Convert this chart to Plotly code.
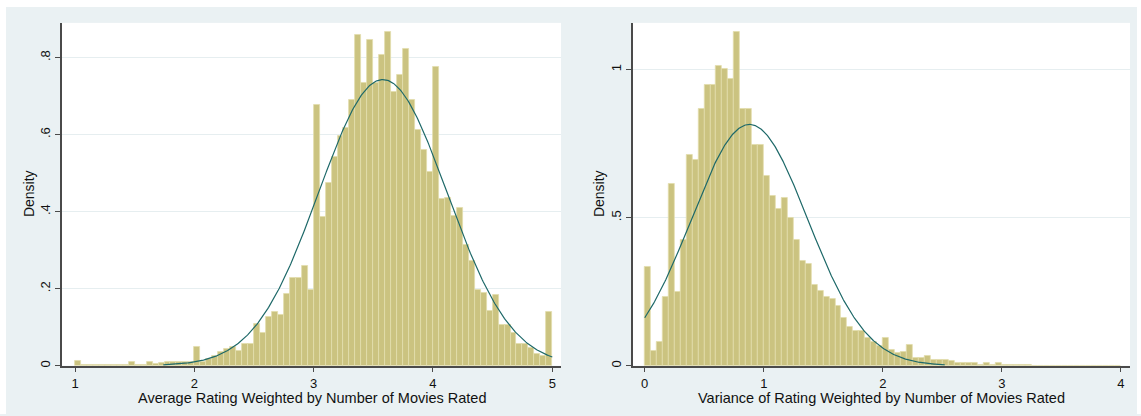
import numpy as np
import plotly.graph_objects as go

W, H = 1141, 416

# ---------------- data ----------------
avg_bin_start = 1.0
avg_bin_width = 0.05
avg_density = [
    0.013, 0.003, 0.003, 0.003, 0.003, 0.003, 0.003, 0.003, 0.003, 0.010,
    0.003, 0.003, 0.009, 0.006, 0.008, 0.009, 0.009, 0.009, 0.009, 0.009,
    0.050, 0.011, 0.017, 0.026, 0.035, 0.044, 0.049, 0.039, 0.056, 0.056,
    0.109, 0.084, 0.127, 0.140, 0.131, 0.187, 0.228, 0.228, 0.259, 0.198,
    0.676, 0.386, 0.474, 0.543, 0.597, 0.618, 0.689, 0.858, 0.733, 0.845,
    0.733, 0.808, 0.866, 0.711, 0.754, 0.822, 0.689, 0.611, 0.560, 0.502,
    0.776, 0.433, 0.435, 0.390, 0.411, 0.314, 0.271, 0.198, 0.190, 0.142,
    0.185, 0.107, 0.107, 0.086, 0.056, 0.056, 0.047, 0.032, 0.025, 0.140,
]
avg_mean, avg_sd = 3.58, 0.537
avg_curve_range = (1.74, 5.0)

var_bin_start = 0.0
var_bin_width = 0.05
var_density = [
    0.333, 0.049, 0.081, 0.232, 0.613, 0.249, 0.426, 0.711, 0.694, 0.869,
    0.948, 0.948, 1.013, 1.002, 0.969, 1.128, 0.869, 0.869, 0.745, 0.745,
    0.641, 0.574, 0.530, 0.566, 0.500, 0.426, 0.353, 0.344, 0.273, 0.252,
    0.231, 0.227, 0.202, 0.163, 0.132, 0.118, 0.119, 0.093, 0.082, 0.066,
    0.093, 0.052, 0.043, 0.046, 0.072, 0.025, 0.028, 0.033, 0.019, 0.019,
    0.019, 0.016, 0.011, 0.011, 0.011, 0.008, 0.002, 0.011, 0.002, 0.008,
    0.002, 0.002, 0.002, 0.002, 0.002, 0.001, 0.001, 0.001, 0.001, 0.001,
    0.001, 0.001, 0.001, 0.001, 0.001, 0.001, 0.001, 0.001, 0.001, 0.001,
]
var_mean, var_sd = 0.88, 0.4895
var_curve_range = (0.0, 2.52)

avg_xticks = [1, 2, 3, 4, 5]
avg_yticks = [0, 0.2, 0.4, 0.6, 0.8]
avg_yticktext = ["0", ".2", ".4", ".6", ".8"]
var_xticks = [0, 1, 2, 3, 4]
var_yticks = [0, 0.5, 1]
var_yticktext = ["0", ".5", "1"]

avg_xtitle = "Average Rating Weighted by Number of Movies Rated"
var_xtitle = "Variance of Rating Weighted by Number of Movies Rated"
ytitle = "Density"

# ---------------- styling ----------------
BAR_FILL = "rgb(203,195,128)"
BAR_EDGE = "rgb(226,221,172)"
CURVE = "rgb(30,105,105)"
REGION = "#eaf1f3"
GRID = "#e6eef0"
AXIS = "#4a4a4a"
FAMILY = "Liberation Sans, Arial, sans-serif"
TICKFONT = dict(family=FAMILY, size=13, color="#111111")
YTITLEFONT = dict(family=FAMILY, size=14, color="#111111")
TITLEFONT = dict(family=FAMILY, size=14.5, color="#111111")


def normal_pdf(x, m, s):
    return np.exp(-0.5 * ((x - m) / s) ** 2) / (s * np.sqrt(2 * np.pi))


fig = go.Figure()


def add_panel(density, start, width, mean, sd, crange, xa, ya):
    centers = [start + width * (i + 0.5) for i in range(len(density))]
    fig.add_trace(go.Bar(
        x=centers, y=density, width=width,
        marker=dict(color=BAR_FILL, line=dict(color=BAR_EDGE, width=0.8)),
        xaxis=xa, yaxis=ya, showlegend=False, hoverinfo="skip",
    ))
    xs = np.linspace(crange[0], crange[1], 400)
    fig.add_trace(go.Scatter(
        x=xs, y=normal_pdf(xs, mean, sd), mode="lines",
        line=dict(color=CURVE, width=1.2),
        xaxis=xa, yaxis=ya, showlegend=False, hoverinfo="skip",
    ))


add_panel(avg_density, avg_bin_start, avg_bin_width, avg_mean, avg_sd, avg_curve_range, "x", "y")
add_panel(var_density, var_bin_start, var_bin_width, var_mean, var_sd, var_curve_range, "x2", "y2")

def px(v):
    return v / W

def py(v):
    return 1 - v / H

ydom = [py(367.5), py(23)]

common_x = dict(ticks="outside", ticklen=5, tickwidth=1, tickcolor=AXIS,
                showline=True, linecolor=AXIS, linewidth=1.5,
                showgrid=False, zeroline=False, tickfont=TICKFONT)
common_y = dict(ticks="outside", ticklen=5, tickwidth=1, tickcolor=AXIS,
                showline=True, linecolor=AXIS, linewidth=1.5,
                showgrid=True, gridcolor=GRID, gridwidth=1,
                zeroline=False, tickangle=-90, tickfont=TICKFONT)

fig.update_layout(
    width=W, height=H,
    margin=dict(l=0, r=0, t=0, b=0),
    paper_bgcolor=REGION, plot_bgcolor="white",
    bargap=0, barmode="overlay",
    font=TICKFONT,
    xaxis=dict(domain=[px(62), px(561)], range=[0.891, 5.073],
               tickvals=avg_xticks, anchor="y", **common_x),
    yaxis=dict(domain=ydom, range=[0, 0.890], tickvals=avg_yticks,
               ticktext=avg_yticktext, anchor="x", **common_y),
    xaxis2=dict(domain=[px(632.7), px(1130)], range=[-0.101, 4.076],
                tickvals=var_xticks, anchor="y2", **common_x),
    yaxis2=dict(domain=ydom, range=[0, 1.158], tickvals=var_yticks,
                ticktext=var_yticktext, anchor="x2", **common_y),
    shapes=[
        dict(type="rect", xref="paper", yref="paper", x0=0, x1=1, y0=py(7), y1=1,
             fillcolor="white", line=dict(width=0), layer="below"),
        dict(type="rect", xref="paper", yref="paper", x0=0, x1=px(6), y0=0, y1=1,
             fillcolor="white", line=dict(width=0), layer="below"),
        dict(type="rect", xref="paper", yref="paper", x0=px(1137), x1=1, y0=0, y1=1,
             fillcolor="white", line=dict(width=0), layer="below"),
    ],
    annotations=[
        dict(text=avg_xtitle, xref="paper", yref="paper", x=px(311.5), y=py(400),
             showarrow=False, xanchor="center", yanchor="middle", font=TITLEFONT),
        dict(text=var_xtitle, xref="paper", yref="paper", x=px(881), y=py(400),
             showarrow=False, xanchor="center", yanchor="middle", font=TITLEFONT),
        dict(text=ytitle, xref="paper", yref="paper", x=px(29), y=py(195),
             showarrow=False, xanchor="center", yanchor="middle", textangle=-90, font=YTITLEFONT),
        dict(text=ytitle, xref="paper", yref="paper", x=px(599), y=py(195),
             showarrow=False, xanchor="center", yanchor="middle", textangle=-90, font=YTITLEFONT),
    ],
)

fig.write_html("out.html", config={"displayModeBar": False},
               post_script="document.body.style.margin='0';document.body.style.padding='0';")
